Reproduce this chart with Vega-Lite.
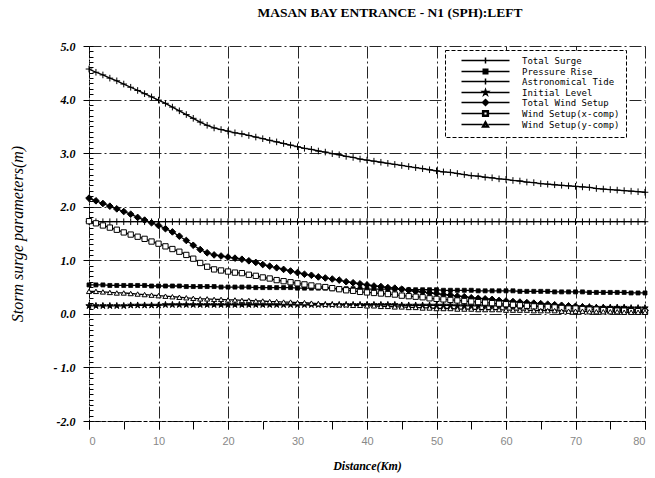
{
"$schema":"https://vega.github.io/schema/vega-lite/v6.json",
"width":556,"height":375,
"autosize":{"type":"none"},
"padding":{"left":89,"top":46,"right":10,"bottom":57},
"title":{"text":"MASAN BAY ENTRANCE - N1 (SPH):LEFT","font":"Liberation Serif","fontSize":13.5,"fontWeight":"bold","color":"black","offset":21,"dx":23},
"data":{"values":[
{"s":"TS","x":0,"y":4.57},{"s":"TS","x":1,"y":4.51},{"s":"TS","x":2,"y":4.46},{"s":"TS","x":3,"y":4.40},{"s":"TS","x":4,"y":4.35},{"s":"TS","x":5,"y":4.29},{"s":"TS","x":6,"y":4.23},{"s":"TS","x":7,"y":4.17},{"s":"TS","x":8,"y":4.11},{"s":"TS","x":9,"y":4.05},{"s":"TS","x":10,"y":3.99},{"s":"TS","x":11,"y":3.93},{"s":"TS","x":12,"y":3.86},{"s":"TS","x":13,"y":3.79},{"s":"TS","x":14,"y":3.72},{"s":"TS","x":15,"y":3.65},{"s":"TS","x":16,"y":3.58},{"s":"TS","x":17,"y":3.52},{"s":"TS","x":18,"y":3.47},{"s":"TS","x":19,"y":3.44},{"s":"TS","x":20,"y":3.41},{"s":"TS","x":21,"y":3.38},{"s":"TS","x":22,"y":3.36},{"s":"TS","x":23,"y":3.33},{"s":"TS","x":24,"y":3.30},{"s":"TS","x":25,"y":3.27},{"s":"TS","x":26,"y":3.24},{"s":"TS","x":27,"y":3.21},{"s":"TS","x":28,"y":3.18},{"s":"TS","x":29,"y":3.15},{"s":"TS","x":30,"y":3.12},{"s":"TS","x":31,"y":3.09},{"s":"TS","x":32,"y":3.07},{"s":"TS","x":33,"y":3.04},{"s":"TS","x":34,"y":3.02},{"s":"TS","x":35,"y":2.99},{"s":"TS","x":36,"y":2.97},{"s":"TS","x":37,"y":2.94},{"s":"TS","x":38,"y":2.92},{"s":"TS","x":39,"y":2.89},{"s":"TS","x":40,"y":2.87},{"s":"TS","x":41,"y":2.85},{"s":"TS","x":42,"y":2.83},{"s":"TS","x":43,"y":2.81},{"s":"TS","x":44,"y":2.79},{"s":"TS","x":45,"y":2.77},{"s":"TS","x":46,"y":2.75},{"s":"TS","x":47,"y":2.73},{"s":"TS","x":48,"y":2.71},{"s":"TS","x":49,"y":2.69},{"s":"TS","x":50,"y":2.67},{"s":"TS","x":51,"y":2.65},{"s":"TS","x":52,"y":2.64},{"s":"TS","x":53,"y":2.62},{"s":"TS","x":54,"y":2.60},{"s":"TS","x":55,"y":2.58},{"s":"TS","x":56,"y":2.57},{"s":"TS","x":57,"y":2.55},{"s":"TS","x":58,"y":2.54},{"s":"TS","x":59,"y":2.52},{"s":"TS","x":60,"y":2.51},{"s":"TS","x":61,"y":2.49},{"s":"TS","x":62,"y":2.48},{"s":"TS","x":63,"y":2.46},{"s":"TS","x":64,"y":2.45},{"s":"TS","x":65,"y":2.43},{"s":"TS","x":66,"y":2.42},{"s":"TS","x":67,"y":2.41},{"s":"TS","x":68,"y":2.40},{"s":"TS","x":69,"y":2.39},{"s":"TS","x":70,"y":2.38},{"s":"TS","x":71,"y":2.37},{"s":"TS","x":72,"y":2.36},{"s":"TS","x":73,"y":2.34},{"s":"TS","x":74,"y":2.33},{"s":"TS","x":75,"y":2.32},{"s":"TS","x":76,"y":2.31},{"s":"TS","x":77,"y":2.30},{"s":"TS","x":78,"y":2.29},{"s":"TS","x":79,"y":2.28},{"s":"TS","x":80,"y":2.27},
{"s":"PR","x":0,"y":0.54},{"s":"PR","x":1,"y":0.54},{"s":"PR","x":2,"y":0.54},{"s":"PR","x":3,"y":0.53},{"s":"PR","x":4,"y":0.53},{"s":"PR","x":5,"y":0.53},{"s":"PR","x":6,"y":0.53},{"s":"PR","x":7,"y":0.53},{"s":"PR","x":8,"y":0.53},{"s":"PR","x":9,"y":0.52},{"s":"PR","x":10,"y":0.52},{"s":"PR","x":11,"y":0.52},{"s":"PR","x":12,"y":0.52},{"s":"PR","x":13,"y":0.52},{"s":"PR","x":14,"y":0.51},{"s":"PR","x":15,"y":0.51},{"s":"PR","x":16,"y":0.51},{"s":"PR","x":17,"y":0.51},{"s":"PR","x":18,"y":0.51},{"s":"PR","x":19,"y":0.50},{"s":"PR","x":20,"y":0.50},{"s":"PR","x":21,"y":0.50},{"s":"PR","x":22,"y":0.50},{"s":"PR","x":23,"y":0.50},{"s":"PR","x":24,"y":0.49},{"s":"PR","x":25,"y":0.49},{"s":"PR","x":26,"y":0.49},{"s":"PR","x":27,"y":0.49},{"s":"PR","x":28,"y":0.49},{"s":"PR","x":29,"y":0.49},{"s":"PR","x":30,"y":0.48},{"s":"PR","x":31,"y":0.48},{"s":"PR","x":32,"y":0.48},{"s":"PR","x":33,"y":0.48},{"s":"PR","x":34,"y":0.48},{"s":"PR","x":35,"y":0.47},{"s":"PR","x":36,"y":0.47},{"s":"PR","x":37,"y":0.47},{"s":"PR","x":38,"y":0.47},{"s":"PR","x":39,"y":0.47},{"s":"PR","x":40,"y":0.46},{"s":"PR","x":41,"y":0.46},{"s":"PR","x":42,"y":0.46},{"s":"PR","x":43,"y":0.46},{"s":"PR","x":44,"y":0.46},{"s":"PR","x":45,"y":0.46},{"s":"PR","x":46,"y":0.45},{"s":"PR","x":47,"y":0.45},{"s":"PR","x":48,"y":0.45},{"s":"PR","x":49,"y":0.45},{"s":"PR","x":50,"y":0.45},{"s":"PR","x":51,"y":0.44},{"s":"PR","x":52,"y":0.44},{"s":"PR","x":53,"y":0.44},{"s":"PR","x":54,"y":0.44},{"s":"PR","x":55,"y":0.44},{"s":"PR","x":56,"y":0.43},{"s":"PR","x":57,"y":0.43},{"s":"PR","x":58,"y":0.43},{"s":"PR","x":59,"y":0.43},{"s":"PR","x":60,"y":0.43},{"s":"PR","x":61,"y":0.43},{"s":"PR","x":62,"y":0.42},{"s":"PR","x":63,"y":0.42},{"s":"PR","x":64,"y":0.42},{"s":"PR","x":65,"y":0.42},{"s":"PR","x":66,"y":0.42},{"s":"PR","x":67,"y":0.41},{"s":"PR","x":68,"y":0.41},{"s":"PR","x":69,"y":0.41},{"s":"PR","x":70,"y":0.41},{"s":"PR","x":71,"y":0.41},{"s":"PR","x":72,"y":0.40},{"s":"PR","x":73,"y":0.40},{"s":"PR","x":74,"y":0.40},{"s":"PR","x":75,"y":0.40},{"s":"PR","x":76,"y":0.40},{"s":"PR","x":77,"y":0.40},{"s":"PR","x":78,"y":0.39},{"s":"PR","x":79,"y":0.39},{"s":"PR","x":80,"y":0.39},
{"s":"AT","x":0,"y":1.72},{"s":"AT","x":1,"y":1.72},{"s":"AT","x":2,"y":1.72},{"s":"AT","x":3,"y":1.72},{"s":"AT","x":4,"y":1.72},{"s":"AT","x":5,"y":1.72},{"s":"AT","x":6,"y":1.72},{"s":"AT","x":7,"y":1.72},{"s":"AT","x":8,"y":1.72},{"s":"AT","x":9,"y":1.72},{"s":"AT","x":10,"y":1.72},{"s":"AT","x":11,"y":1.72},{"s":"AT","x":12,"y":1.72},{"s":"AT","x":13,"y":1.72},{"s":"AT","x":14,"y":1.72},{"s":"AT","x":15,"y":1.72},{"s":"AT","x":16,"y":1.72},{"s":"AT","x":17,"y":1.72},{"s":"AT","x":18,"y":1.72},{"s":"AT","x":19,"y":1.72},{"s":"AT","x":20,"y":1.72},{"s":"AT","x":21,"y":1.72},{"s":"AT","x":22,"y":1.72},{"s":"AT","x":23,"y":1.72},{"s":"AT","x":24,"y":1.72},{"s":"AT","x":25,"y":1.72},{"s":"AT","x":26,"y":1.72},{"s":"AT","x":27,"y":1.72},{"s":"AT","x":28,"y":1.72},{"s":"AT","x":29,"y":1.72},{"s":"AT","x":30,"y":1.72},{"s":"AT","x":31,"y":1.72},{"s":"AT","x":32,"y":1.72},{"s":"AT","x":33,"y":1.72},{"s":"AT","x":34,"y":1.72},{"s":"AT","x":35,"y":1.72},{"s":"AT","x":36,"y":1.72},{"s":"AT","x":37,"y":1.72},{"s":"AT","x":38,"y":1.72},{"s":"AT","x":39,"y":1.72},{"s":"AT","x":40,"y":1.72},{"s":"AT","x":41,"y":1.72},{"s":"AT","x":42,"y":1.72},{"s":"AT","x":43,"y":1.72},{"s":"AT","x":44,"y":1.72},{"s":"AT","x":45,"y":1.72},{"s":"AT","x":46,"y":1.72},{"s":"AT","x":47,"y":1.72},{"s":"AT","x":48,"y":1.72},{"s":"AT","x":49,"y":1.72},{"s":"AT","x":50,"y":1.72},{"s":"AT","x":51,"y":1.72},{"s":"AT","x":52,"y":1.72},{"s":"AT","x":53,"y":1.72},{"s":"AT","x":54,"y":1.72},{"s":"AT","x":55,"y":1.72},{"s":"AT","x":56,"y":1.72},{"s":"AT","x":57,"y":1.72},{"s":"AT","x":58,"y":1.72},{"s":"AT","x":59,"y":1.72},{"s":"AT","x":60,"y":1.72},{"s":"AT","x":61,"y":1.72},{"s":"AT","x":62,"y":1.72},{"s":"AT","x":63,"y":1.72},{"s":"AT","x":64,"y":1.72},{"s":"AT","x":65,"y":1.72},{"s":"AT","x":66,"y":1.72},{"s":"AT","x":67,"y":1.72},{"s":"AT","x":68,"y":1.72},{"s":"AT","x":69,"y":1.72},{"s":"AT","x":70,"y":1.72},{"s":"AT","x":71,"y":1.72},{"s":"AT","x":72,"y":1.72},{"s":"AT","x":73,"y":1.72},{"s":"AT","x":74,"y":1.72},{"s":"AT","x":75,"y":1.72},{"s":"AT","x":76,"y":1.72},{"s":"AT","x":77,"y":1.72},{"s":"AT","x":78,"y":1.72},{"s":"AT","x":79,"y":1.72},{"s":"AT","x":80,"y":1.72},
{"s":"IL","x":0,"y":0.15},{"s":"IL","x":1,"y":0.15},{"s":"IL","x":2,"y":0.15},{"s":"IL","x":3,"y":0.15},{"s":"IL","x":4,"y":0.15},{"s":"IL","x":5,"y":0.15},{"s":"IL","x":6,"y":0.16},{"s":"IL","x":7,"y":0.16},{"s":"IL","x":8,"y":0.16},{"s":"IL","x":9,"y":0.16},{"s":"IL","x":10,"y":0.16},{"s":"IL","x":11,"y":0.17},{"s":"IL","x":12,"y":0.17},{"s":"IL","x":13,"y":0.17},{"s":"IL","x":14,"y":0.17},{"s":"IL","x":15,"y":0.17},{"s":"IL","x":16,"y":0.17},{"s":"IL","x":17,"y":0.17},{"s":"IL","x":18,"y":0.17},{"s":"IL","x":19,"y":0.17},{"s":"IL","x":20,"y":0.17},{"s":"IL","x":21,"y":0.17},{"s":"IL","x":22,"y":0.17},{"s":"IL","x":23,"y":0.17},{"s":"IL","x":24,"y":0.17},{"s":"IL","x":25,"y":0.17},{"s":"IL","x":26,"y":0.17},{"s":"IL","x":27,"y":0.17},{"s":"IL","x":28,"y":0.17},{"s":"IL","x":29,"y":0.17},{"s":"IL","x":30,"y":0.17},{"s":"IL","x":31,"y":0.17},{"s":"IL","x":32,"y":0.17},{"s":"IL","x":33,"y":0.17},{"s":"IL","x":34,"y":0.17},{"s":"IL","x":35,"y":0.17},{"s":"IL","x":36,"y":0.17},{"s":"IL","x":37,"y":0.17},{"s":"IL","x":38,"y":0.17},{"s":"IL","x":39,"y":0.17},{"s":"IL","x":40,"y":0.17},{"s":"IL","x":41,"y":0.17},{"s":"IL","x":42,"y":0.17},{"s":"IL","x":43,"y":0.17},{"s":"IL","x":44,"y":0.17},{"s":"IL","x":45,"y":0.16},{"s":"IL","x":46,"y":0.16},{"s":"IL","x":47,"y":0.16},{"s":"IL","x":48,"y":0.16},{"s":"IL","x":49,"y":0.16},{"s":"IL","x":50,"y":0.16},{"s":"IL","x":51,"y":0.16},{"s":"IL","x":52,"y":0.16},{"s":"IL","x":53,"y":0.15},{"s":"IL","x":54,"y":0.15},{"s":"IL","x":55,"y":0.15},{"s":"IL","x":56,"y":0.15},{"s":"IL","x":57,"y":0.15},{"s":"IL","x":58,"y":0.15},{"s":"IL","x":59,"y":0.15},{"s":"IL","x":60,"y":0.15},{"s":"IL","x":61,"y":0.14},{"s":"IL","x":62,"y":0.14},{"s":"IL","x":63,"y":0.14},{"s":"IL","x":64,"y":0.14},{"s":"IL","x":65,"y":0.14},{"s":"IL","x":66,"y":0.14},{"s":"IL","x":67,"y":0.13},{"s":"IL","x":68,"y":0.13},{"s":"IL","x":69,"y":0.13},{"s":"IL","x":70,"y":0.13},{"s":"IL","x":71,"y":0.13},{"s":"IL","x":72,"y":0.13},{"s":"IL","x":73,"y":0.12},{"s":"IL","x":74,"y":0.12},{"s":"IL","x":75,"y":0.12},{"s":"IL","x":76,"y":0.12},{"s":"IL","x":77,"y":0.12},{"s":"IL","x":78,"y":0.11},{"s":"IL","x":79,"y":0.11},{"s":"IL","x":80,"y":0.11},
{"s":"TW","x":0,"y":2.16},{"s":"TW","x":1,"y":2.11},{"s":"TW","x":2,"y":2.06},{"s":"TW","x":3,"y":2.01},{"s":"TW","x":4,"y":1.96},{"s":"TW","x":5,"y":1.91},{"s":"TW","x":6,"y":1.86},{"s":"TW","x":7,"y":1.80},{"s":"TW","x":8,"y":1.75},{"s":"TW","x":9,"y":1.70},{"s":"TW","x":10,"y":1.65},{"s":"TW","x":11,"y":1.59},{"s":"TW","x":12,"y":1.53},{"s":"TW","x":13,"y":1.45},{"s":"TW","x":14,"y":1.37},{"s":"TW","x":15,"y":1.28},{"s":"TW","x":16,"y":1.20},{"s":"TW","x":17,"y":1.14},{"s":"TW","x":18,"y":1.10},{"s":"TW","x":19,"y":1.08},{"s":"TW","x":20,"y":1.06},{"s":"TW","x":21,"y":1.04},{"s":"TW","x":22,"y":1.02},{"s":"TW","x":23,"y":0.99},{"s":"TW","x":24,"y":0.96},{"s":"TW","x":25,"y":0.92},{"s":"TW","x":26,"y":0.89},{"s":"TW","x":27,"y":0.86},{"s":"TW","x":28,"y":0.83},{"s":"TW","x":29,"y":0.80},{"s":"TW","x":30,"y":0.77},{"s":"TW","x":31,"y":0.74},{"s":"TW","x":32,"y":0.72},{"s":"TW","x":33,"y":0.69},{"s":"TW","x":34,"y":0.67},{"s":"TW","x":35,"y":0.65},{"s":"TW","x":36,"y":0.63},{"s":"TW","x":37,"y":0.60},{"s":"TW","x":38,"y":0.58},{"s":"TW","x":39,"y":0.56},{"s":"TW","x":40,"y":0.54},{"s":"TW","x":41,"y":0.52},{"s":"TW","x":42,"y":0.51},{"s":"TW","x":43,"y":0.49},{"s":"TW","x":44,"y":0.48},{"s":"TW","x":45,"y":0.46},{"s":"TW","x":46,"y":0.44},{"s":"TW","x":47,"y":0.42},{"s":"TW","x":48,"y":0.41},{"s":"TW","x":49,"y":0.39},{"s":"TW","x":50,"y":0.38},{"s":"TW","x":51,"y":0.36},{"s":"TW","x":52,"y":0.35},{"s":"TW","x":53,"y":0.33},{"s":"TW","x":54,"y":0.32},{"s":"TW","x":55,"y":0.30},{"s":"TW","x":56,"y":0.29},{"s":"TW","x":57,"y":0.28},{"s":"TW","x":58,"y":0.27},{"s":"TW","x":59,"y":0.25},{"s":"TW","x":60,"y":0.24},{"s":"TW","x":61,"y":0.23},{"s":"TW","x":62,"y":0.22},{"s":"TW","x":63,"y":0.21},{"s":"TW","x":64,"y":0.20},{"s":"TW","x":65,"y":0.19},{"s":"TW","x":66,"y":0.18},{"s":"TW","x":67,"y":0.17},{"s":"TW","x":68,"y":0.16},{"s":"TW","x":69,"y":0.15},{"s":"TW","x":70,"y":0.14},{"s":"TW","x":71,"y":0.13},{"s":"TW","x":72,"y":0.12},{"s":"TW","x":73,"y":0.11},{"s":"TW","x":74,"y":0.11},{"s":"TW","x":75,"y":0.10},{"s":"TW","x":76,"y":0.09},{"s":"TW","x":77,"y":0.09},{"s":"TW","x":78,"y":0.08},{"s":"TW","x":79,"y":0.07},{"s":"TW","x":80,"y":0.06},
{"s":"WX","x":0,"y":1.73},{"s":"WX","x":1,"y":1.69},{"s":"WX","x":2,"y":1.65},{"s":"WX","x":3,"y":1.61},{"s":"WX","x":4,"y":1.57},{"s":"WX","x":5,"y":1.52},{"s":"WX","x":6,"y":1.48},{"s":"WX","x":7,"y":1.44},{"s":"WX","x":8,"y":1.40},{"s":"WX","x":9,"y":1.35},{"s":"WX","x":10,"y":1.31},{"s":"WX","x":11,"y":1.26},{"s":"WX","x":12,"y":1.21},{"s":"WX","x":13,"y":1.16},{"s":"WX","x":14,"y":1.10},{"s":"WX","x":15,"y":1.03},{"s":"WX","x":16,"y":0.95},{"s":"WX","x":17,"y":0.88},{"s":"WX","x":18,"y":0.83},{"s":"WX","x":19,"y":0.81},{"s":"WX","x":20,"y":0.79},{"s":"WX","x":21,"y":0.77},{"s":"WX","x":22,"y":0.76},{"s":"WX","x":23,"y":0.73},{"s":"WX","x":24,"y":0.71},{"s":"WX","x":25,"y":0.68},{"s":"WX","x":26,"y":0.66},{"s":"WX","x":27,"y":0.63},{"s":"WX","x":28,"y":0.61},{"s":"WX","x":29,"y":0.59},{"s":"WX","x":30,"y":0.57},{"s":"WX","x":31,"y":0.55},{"s":"WX","x":32,"y":0.53},{"s":"WX","x":33,"y":0.51},{"s":"WX","x":34,"y":0.50},{"s":"WX","x":35,"y":0.48},{"s":"WX","x":36,"y":0.46},{"s":"WX","x":37,"y":0.44},{"s":"WX","x":38,"y":0.43},{"s":"WX","x":39,"y":0.41},{"s":"WX","x":40,"y":0.40},{"s":"WX","x":41,"y":0.39},{"s":"WX","x":42,"y":0.38},{"s":"WX","x":43,"y":0.37},{"s":"WX","x":44,"y":0.36},{"s":"WX","x":45,"y":0.34},{"s":"WX","x":46,"y":0.33},{"s":"WX","x":47,"y":0.32},{"s":"WX","x":48,"y":0.31},{"s":"WX","x":49,"y":0.29},{"s":"WX","x":50,"y":0.28},{"s":"WX","x":51,"y":0.27},{"s":"WX","x":52,"y":0.26},{"s":"WX","x":53,"y":0.25},{"s":"WX","x":54,"y":0.24},{"s":"WX","x":55,"y":0.23},{"s":"WX","x":56,"y":0.22},{"s":"WX","x":57,"y":0.21},{"s":"WX","x":58,"y":0.20},{"s":"WX","x":59,"y":0.19},{"s":"WX","x":60,"y":0.18},{"s":"WX","x":61,"y":0.17},{"s":"WX","x":62,"y":0.16},{"s":"WX","x":63,"y":0.15},{"s":"WX","x":64,"y":0.14},{"s":"WX","x":65,"y":0.13},{"s":"WX","x":66,"y":0.13},{"s":"WX","x":67,"y":0.12},{"s":"WX","x":68,"y":0.11},{"s":"WX","x":69,"y":0.10},{"s":"WX","x":70,"y":0.10},{"s":"WX","x":71,"y":0.09},{"s":"WX","x":72,"y":0.08},{"s":"WX","x":73,"y":0.08},{"s":"WX","x":74,"y":0.07},{"s":"WX","x":75,"y":0.07},{"s":"WX","x":76,"y":0.06},{"s":"WX","x":77,"y":0.06},{"s":"WX","x":78,"y":0.05},{"s":"WX","x":79,"y":0.05},{"s":"WX","x":80,"y":0.04},
{"s":"WY","x":0,"y":0.42},{"s":"WY","x":1,"y":0.42},{"s":"WY","x":2,"y":0.41},{"s":"WY","x":3,"y":0.40},{"s":"WY","x":4,"y":0.39},{"s":"WY","x":5,"y":0.39},{"s":"WY","x":6,"y":0.38},{"s":"WY","x":7,"y":0.37},{"s":"WY","x":8,"y":0.36},{"s":"WY","x":9,"y":0.35},{"s":"WY","x":10,"y":0.34},{"s":"WY","x":11,"y":0.33},{"s":"WY","x":12,"y":0.32},{"s":"WY","x":13,"y":0.31},{"s":"WY","x":14,"y":0.30},{"s":"WY","x":15,"y":0.29},{"s":"WY","x":16,"y":0.28},{"s":"WY","x":17,"y":0.28},{"s":"WY","x":18,"y":0.27},{"s":"WY","x":19,"y":0.27},{"s":"WY","x":20,"y":0.26},{"s":"WY","x":21,"y":0.26},{"s":"WY","x":22,"y":0.25},{"s":"WY","x":23,"y":0.25},{"s":"WY","x":24,"y":0.24},{"s":"WY","x":25,"y":0.24},{"s":"WY","x":26,"y":0.23},{"s":"WY","x":27,"y":0.23},{"s":"WY","x":28,"y":0.22},{"s":"WY","x":29,"y":0.22},{"s":"WY","x":30,"y":0.21},{"s":"WY","x":31,"y":0.21},{"s":"WY","x":32,"y":0.20},{"s":"WY","x":33,"y":0.19},{"s":"WY","x":34,"y":0.18},{"s":"WY","x":35,"y":0.18},{"s":"WY","x":36,"y":0.17},{"s":"WY","x":37,"y":0.17},{"s":"WY","x":38,"y":0.16},{"s":"WY","x":39,"y":0.16},{"s":"WY","x":40,"y":0.15},{"s":"WY","x":41,"y":0.15},{"s":"WY","x":42,"y":0.14},{"s":"WY","x":43,"y":0.14},{"s":"WY","x":44,"y":0.13},{"s":"WY","x":45,"y":0.13},{"s":"WY","x":46,"y":0.12},{"s":"WY","x":47,"y":0.12},{"s":"WY","x":48,"y":0.11},{"s":"WY","x":49,"y":0.11},{"s":"WY","x":50,"y":0.10},{"s":"WY","x":51,"y":0.10},{"s":"WY","x":52,"y":0.10},{"s":"WY","x":53,"y":0.09},{"s":"WY","x":54,"y":0.09},{"s":"WY","x":55,"y":0.09},{"s":"WY","x":56,"y":0.08},{"s":"WY","x":57,"y":0.08},{"s":"WY","x":58,"y":0.08},{"s":"WY","x":59,"y":0.08},{"s":"WY","x":60,"y":0.07},{"s":"WY","x":61,"y":0.07},{"s":"WY","x":62,"y":0.07},{"s":"WY","x":63,"y":0.07},{"s":"WY","x":64,"y":0.06},{"s":"WY","x":65,"y":0.06},{"s":"WY","x":66,"y":0.06},{"s":"WY","x":67,"y":0.06},{"s":"WY","x":68,"y":0.05},{"s":"WY","x":69,"y":0.05},{"s":"WY","x":70,"y":0.05},{"s":"WY","x":71,"y":0.05},{"s":"WY","x":72,"y":0.04},{"s":"WY","x":73,"y":0.04},{"s":"WY","x":74,"y":0.04},{"s":"WY","x":75,"y":0.04},{"s":"WY","x":76,"y":0.04},{"s":"WY","x":77,"y":0.03},{"s":"WY","x":78,"y":0.03},{"s":"WY","x":79,"y":0.03},{"s":"WY","x":80,"y":0.03}
]},
"layer":[
{"mark":{"type":"line","stroke":"black","strokeWidth":1.3},
 "encoding":{
  "x":{"field":"x","type":"quantitative","scale":{"domain":[0,80],"nice":false,"zero":false},
   "axis":{"orient":"bottom","values":[0,10,20,30,40,50,60,70,80],"grid":true,"gridColor":"black","gridDash":[12,3,2,3],"gridWidth":1,"gridOpacity":0.85,"domainColor":"black","domainDash":[4,2],"tickColor":"black","tickSize":8,"labelFont":"Liberation Sans","labelFontSize":11,"labelColor":"#888888","labelPadding":6,"title":"Distance(Km)","titleFont":"Liberation Serif","titleFontSize":12,"titleFontWeight":"bold","titleFontStyle":"italic","titleColor":"black","titlePadding":14}},
  "y":{"field":"y","type":"quantitative","scale":{"domain":[-2,5],"nice":false,"zero":false},
   "axis":{"orient":"left","values":[-2,-1,0,1,2,3,4,5],"grid":true,"gridColor":"black","gridDash":[12,3,2,3],"gridWidth":1,"gridOpacity":0.85,"domainColor":"black","domainDash":[2,2],"tickColor":"black","tickSize":6,"labelExpr":"datum.value == -2 ? '-2.0' : datum.value < 0 ? '- ' + format(-datum.value, '.1f') : format(datum.value, '.1f')","labelFont":"Liberation Serif","labelFontSize":12,"labelFontWeight":"bold","labelFontStyle":"italic","labelColor":"black","labelPadding":8,"title":"Storm surge parameters(m)","titleFont":"Liberation Serif","titleFontSize":16,"titleFontWeight":"normal","titleFontStyle":"italic","titleColor":"black","titlePadding":28}},
  "detail":{"field":"s"}
 }},
{"transform":[{"filter":{"field":"s","oneOf":["TS","AT","IL","TW"]}}],
 "mark":{"type":"point","filled":true,"fill":"black","stroke":"black","strokeWidth":1,"size":44,"opacity":1},
 "encoding":{
  "x":{"field":"x","type":"quantitative","axis":{"orient":"bottom","tickCount":16,"grid":false,"labels":false,"domain":false,"tickColor":"black","tickSize":8,"title":null}},
  "y":{"field":"y","type":"quantitative","axis":{"orient":"left","tickCount":70,"grid":false,"labels":false,"domain":false,"tickColor":"black","tickSize":-4,"title":null}},
  "shape":{"field":"s","type":"nominal","legend":null,
   "scale":{"domain":["TS","AT","IL","TW"],"range":["M-1,0H1M0,-1V1","M-1,0H1M0,-1V1","M0,-1L0.22,-0.31L0.95,-0.31L0.36,0.12L0.59,0.81L0,0.38L-0.59,0.81L-0.36,0.12L-0.95,-0.31L-0.22,-0.31Z","diamond"]}}
 }},
{"transform":[{"filter":{"field":"s","equal":"PR"}}],
 "mark":{"type":"point","shape":"square","filled":true,"fill":"black","stroke":"black","strokeWidth":0.8,"size":16,"opacity":1},
 "encoding":{
  "x":{"field":"x","type":"quantitative","axis":null},
  "y":{"field":"y","type":"quantitative","axis":null}
 }},
{"transform":[{"filter":{"field":"s","equal":"WX"}}],
 "mark":{"type":"point","shape":"square","filled":false,"fill":"white","stroke":"black","strokeWidth":1,"size":28,"opacity":1},
 "encoding":{
  "x":{"field":"x","type":"quantitative","axis":null},
  "y":{"field":"y","type":"quantitative","axis":null}
 }},
{"transform":[{"filter":{"field":"s","equal":"WY"}}],
 "mark":{"type":"point","shape":"triangle-up","filled":false,"fill":"white","stroke":"black","strokeWidth":1,"size":26,"opacity":1},
 "encoding":{
  "x":{"field":"x","type":"quantitative","axis":null},
  "y":{"field":"y","type":"quantitative","axis":null}
 }},
{"transform":[{"filter":"false"}],
 "mark":{"type":"point","filled":true,"fill":"black","stroke":"black","strokeWidth":1,"opacity":1},
 "encoding":{
  "x":{"field":"x","type":"quantitative","axis":null},
  "y":{"field":"y","type":"quantitative","axis":null},
  "shape":{"field":"s","type":"nominal",
   "scale":{"domain":["TS","PR","AT","IL","TW","WX","WY"],"range":["M-8,0H8M0,-1V1","M-8,0H-0.75M0.75,0H8M-0.75,-0.75H0.75V0.75H-0.75Z","M-8,0H8M0,-1V1","M-8,0H-0.9M0.9,0H8M0,-1L0.23,-0.31L0.95,-0.31L0.36,0.12L0.59,0.81L0,0.38L-0.59,0.81L-0.36,0.12L-0.95,-0.31L-0.23,-0.31Z","M-8,0H-1M1,0H8M0,-1L1,0L0,1L-1,0Z","M-8,0H-0.95M0.95,0H8M-0.95,-0.95H0.95V0.95H-0.95ZM-0.6,-0.6V0.6H0.6V-0.6Z","M-8,0H-0.95M0.95,0H8M0,-1L1.05,0.85L-1.05,0.85ZM0,-0.4L-0.55,0.55L0.55,0.55Z"]},
   "legend":{"title":null,"orient":"none","legendX":356,"legendY":4,"symbolSize":36,"symbolOffset":30,"labelOffset":32,"rowPadding":-2,"symbolOpacity":1,
    "labelExpr":"datum.label == 'TS' ? 'Total Surge' : datum.label == 'PR' ? 'Pressure Rise' : datum.label == 'AT' ? 'Astronomical Tide' : datum.label == 'IL' ? 'Initial Level' : datum.label == 'TW' ? 'Total Wind Setup' : datum.label == 'WX' ? 'Wind Setup(x-comp)' : 'Wind Setup(y-comp)'"}}
 }}
],
"resolve":{"axis":{"x":"independent","y":"independent"},"scale":{"shape":"independent"}},
"config":{"view":{"stroke":null},"background":"white",
 "legend":{"strokeColor":"black","strokeDash":[4,2],"fillColor":"white","padding":6,"labelFont":"DejaVu Sans Mono","labelFontSize":9,"labelColor":"black","rowPadding":-2}}
}
